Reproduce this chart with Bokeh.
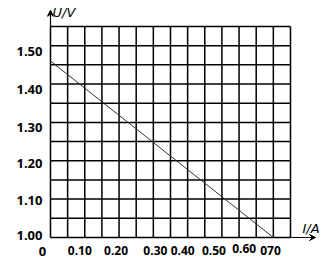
from bokeh.plotting import figure
from bokeh.models import Range1d, Arrow, VeeHead, ColumnDataSource
from bokeh.core.properties import value
from bokeh.embed import file_html
from bokeh.resources import INLINE

# ---- data ----
grid_x = [0.00, 0.05, 0.10, 0.15, 0.20, 0.25, 0.30, 0.35, 0.40, 0.45, 0.50, 0.55, 0.60, 0.65, 0.70]
grid_y = [1.00, 1.05, 1.10, 1.15, 1.20, 1.25, 1.30, 1.35, 1.40, 1.45, 1.50, 1.55]
x_ticks = [0.10, 0.20, 0.30, 0.40, 0.50, 0.60, 0.70]
x_tick_labels = ["0.10", "0.20", "0.30", "0.40", "0.50", "0.60", "070"]
y_ticks = [1.00, 1.10, 1.20, 1.30, 1.40, 1.50]
y_tick_labels = ["1.00", "1.10", "1.20", "1.30", "1.40", "1.50"]
current = [0.0, 0.65]      # I / A
voltage = [1.46, 1.00]     # U / V

# ---- styling offsets (screen px) ----
x_label_dx = [-5, -3, 2, -5, -8, -12, -20]
x_label_dy = [13, 13, 13, 13, 13, 11, 13]
y_label_dy = [-2, 1, 3, 5, 5, 6]

x0, x1 = grid_x[0], grid_x[-1]
y0, y1 = grid_y[0], grid_y[-1]

p = figure(width=331, height=259, output_backend="svg", toolbar_location=None,
           x_range=Range1d(-0.1458, 0.8196), y_range=Range1d(0.9426, 1.6178),
           min_border=0, min_border_left=0, min_border_right=0,
           min_border_top=0, min_border_bottom=0)
p.axis.visible = False
p.xgrid.visible = False
p.ygrid.visible = False
p.outline_line_color = None
p.background_fill_color = "white"
p.border_fill_color = "white"

# grid
p.segment(x0=grid_x, y0=[y0] * len(grid_x), x1=grid_x, y1=[y1] * len(grid_x),
          line_color="black", line_width=1.5)
p.segment(x0=[x0] * len(grid_y), y0=grid_y, x1=[x1] * len(grid_y), y1=grid_y,
          line_color="black", line_width=1.5)

# axes with arrows
p.add_layout(Arrow(x_start=x0, y_start=y1, x_end=x0, y_end=1.592,
                   line_color="black", line_width=1.2,
                   end=VeeHead(size=6, line_color="black", line_width=1.2)))
p.add_layout(Arrow(x_start=x1, y_start=y0, x_end=0.773, y_end=y0,
                   line_color="black", line_width=1.0,
                   end=VeeHead(size=6, line_color="black", line_width=1.0)))

# data line
p.line(current, voltage, line_color="#333333", line_width=1)

font = value("Open Sans")

xs = ColumnDataSource(dict(x=x_ticks, y=[y0] * len(x_ticks), t=x_tick_labels,
                           dx=x_label_dx, dy=x_label_dy))
p.text(x="x", y="y", text="t", x_offset="dx", y_offset="dy", source=xs,
       text_font=font, text_font_style="bold", text_font_size="12px",
       text_align="center", text_baseline="middle", text_color="black")

ys = ColumnDataSource(dict(x=[x0] * len(y_ticks), y=y_ticks, t=y_tick_labels, dy=y_label_dy))
p.text(x="x", y="y", text="t", x_offset=-8, y_offset="dy", source=ys,
       text_font=font, text_font_style="bold", text_font_size="13px",
       text_align="right", text_baseline="middle", text_color="black")

p.text(x=[x0], y=[y0], text=["0"], x_offset=-8, y_offset=14,
       text_font=font, text_font_style="bold", text_font_size="13px",
       text_align="center", text_baseline="middle", text_color="black")

p.text(x=[x0], y=[y1], text=["U/V"], x_offset=2, y_offset=-14,
       text_font=value("DejaVu Sans"), text_font_style="italic", text_font_size="13px",
       text_align="left", text_baseline="middle", text_color="black")
p.text(x=[x1], y=[y0], text=["I/A"], x_offset=12, y_offset=-9,
       text_font=value("DejaVu Sans"), text_font_style="italic", text_font_size="13px",
       text_align="left", text_baseline="middle", text_color="black")

open("out.html", "w").write(file_html(p, INLINE))
